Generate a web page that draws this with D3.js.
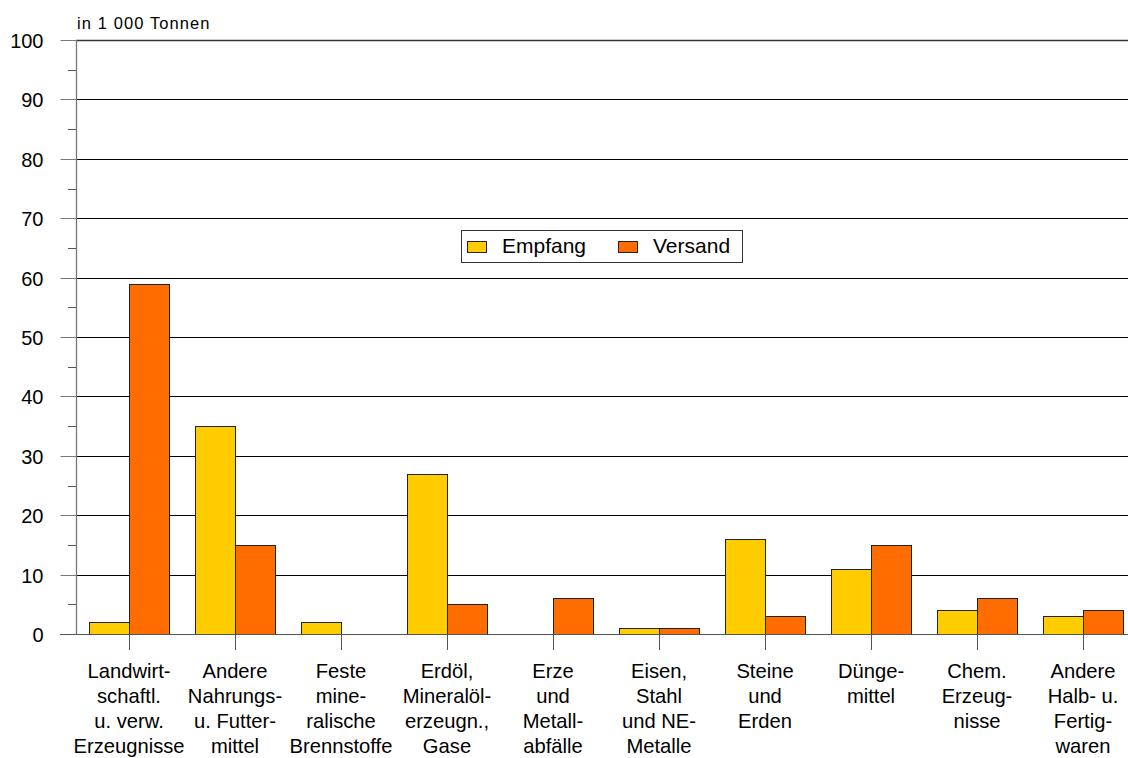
<!DOCTYPE html>
<html>
<head>
<meta charset="utf-8">
<script src="https://cdn.jsdelivr.net/npm/d3@7"></script>
<style>
  html, body { margin: 0; padding: 0; background: #fff; }
  svg text { font-family: "Liberation Sans", Arial, sans-serif; fill: #000; }
</style>
</head>
<body>
<svg id="chart" width="1128" height="758"></svg>
<script>
// ---- data ----
const categories = [
  ["Landwirt-", "schaftl.", "u. verw.", "Erzeugnisse"],
  ["Andere", "Nahrungs-", "u. Futter-", "mittel"],
  ["Feste", "mine-", "ralische", "Brennstoffe"],
  ["Erdöl,", "Mineralöl-", "erzeugn.,", "Gase"],
  ["Erze", "und", "Metall-", "abfälle"],
  ["Eisen,", "Stahl", "und NE-", "Metalle"],
  ["Steine", "und", "Erden"],
  ["Dünge-", "mittel"],
  ["Chem.", "Erzeug-", "nisse"],
  ["Andere", "Halb- u.", "Fertig-", "waren"]
];
const seriesNames = ["Empfang", "Versand"];
const empfang = [2, 35, 2, 27, 0, 1, 16, 11, 4, 3];
const versand = [59, 15, 0, 5, 6, 1, 3, 15, 6, 4];
const yTicks = [0, 10, 20, 30, 40, 50, 60, 70, 80, 90, 100];
const unitLabel = "in 1 000 Tonnen";
const colors = ["#FFCC00", "#FF6C00"];

(function () {
// ---- layout ----
const svg = d3.select("#chart");
const W = 1128;
const pLeft = 76, pRight = 1136, pTop = 40, pBottom = 634;
const keys = categories.map((c, i) => "c" + i);

const x = d3.scaleBand().domain(keys).range([pLeft, pRight])
  .paddingInner(26 / 106).paddingOuter(13 / 106);
const xs = d3.scaleBand().domain(seriesNames).range([0, x.bandwidth()]);
const y = d3.scaleLinear().domain([0, 100]).range([pBottom, pTop]);

// gridlines
svg.append("g").selectAll("line").data(yTicks.filter(t => t > 0)).join("line")
  .attr("x1", pLeft).attr("x2", W)
  .attr("y1", d => Math.round(y(d)) + 0.5).attr("y2", d => Math.round(y(d)) + 0.5)
  .attr("stroke", d => d === 100 ? "#333" : "#000")
  .attr("stroke-width", d => d === 100 ? 1.5 : 1);

// y axis with major ticks (left) and minor ticks
const yAxis = d3.axisLeft(y).tickValues(yTicks).tickSize(16).tickPadding(17)
  .tickFormat(d3.format("d"));
const gy = svg.append("g").attr("transform", `translate(${pLeft + 0.5},0)`).call(yAxis);
gy.select(".domain").remove();
gy.selectAll(".tick line").attr("stroke", "#777").attr("stroke-width", 1);
gy.selectAll(".tick").attr("transform", d => `translate(0,${Math.round(y(d)) + 0.5})`);
gy.selectAll(".tick text").attr("font-size", 20).attr("dy", "0.36em")
  .style("font-family", "'Liberation Sans', Arial, sans-serif").attr("fill", "#000");

const minor = d3.range(5, 100, 10);
svg.append("g").selectAll("line").data(minor).join("line")
  .attr("x1", pLeft - 8).attr("x2", pLeft)
  .attr("y1", d => Math.round(y(d)) + 0.5).attr("y2", d => Math.round(y(d)) + 0.5)
  .attr("stroke", "#555");

// bars
const data = keys.map((k, i) => ({ key: k, vals: [empfang[i], versand[i]] }));
const groups = svg.append("g").selectAll("g").data(data).join("g")
  .attr("transform", d => `translate(${x(d.key)},0)`);
groups.selectAll("rect").data(d => d.vals.map((v, j) => ({ name: seriesNames[j], v, j })))
  .join("rect")
  .attr("x", d => xs(d.name) + 0.5)
  .attr("width", xs.bandwidth())
  .attr("y", d => Math.round(y(d.v)) + 0.5)
  .attr("height", d => Math.round(y(0)) - Math.round(y(d.v)))
  .attr("fill", d => colors[d.j])
  .attr("stroke", "#222").attr("stroke-width", 1);

// zero line
svg.append("line").attr("x1", pLeft - 16).attr("x2", W)
  .attr("y1", Math.round(y(0)) + 0.5).attr("y2", Math.round(y(0)) + 0.5)
  .attr("stroke", "#555").attr("stroke-width", 1.2);

// vertical axis line
svg.append("line").attr("x1", pLeft + 0.5).attr("x2", pLeft + 0.5)
  .attr("y1", y(100)).attr("y2", y(0))
  .attr("stroke", "#777").attr("stroke-width", 1.3);

// x axis: category ticks and labels
const gx = svg.append("g");
gx.selectAll("line").data(keys).join("line")
  .attr("x1", d => Math.round(x(d) + x.bandwidth() / 2) + 0.5)
  .attr("x2", d => Math.round(x(d) + x.bandwidth() / 2) + 0.5)
  .attr("y1", y(0)).attr("y2", y(0) + 16)
  .attr("stroke", "#555");
const labels = gx.selectAll("text").data(categories).join("text")
  .attr("text-anchor", "middle")
  .attr("font-size", 20.2)
  .attr("x", (d, i) => x(keys[i]) + x.bandwidth() / 2)
  .attr("y", 678);
labels.selectAll("tspan").data(d => d).join("tspan")
  .attr("x", function () { return d3.select(this.parentNode).attr("x"); })
  .attr("dy", (d, i) => i === 0 ? 0 : 25)
  .text(d => d);

// unit label
svg.append("text").attr("x", 77).attr("y", 29).attr("font-size", 16.5)
  .attr("letter-spacing", 1.1).text(unitLabel);

// legend
const lg = svg.append("g");
lg.append("rect").attr("x", 461.5).attr("y", 230.5).attr("width", 281).attr("height", 32)
  .attr("fill", "#fff").attr("stroke", "#333");
const legendX = [467, 618];
seriesNames.forEach((n, j) => {
  lg.append("rect").attr("x", legendX[j] + 0.5).attr("y", 241.5).attr("width", 19).attr("height", 11)
    .attr("fill", colors[j]).attr("stroke", "#222");
  lg.append("text").attr("x", legendX[j] + 35).attr("y", 253).attr("font-size", 21).text(n);
});
})();
</script>
</body>
</html>
